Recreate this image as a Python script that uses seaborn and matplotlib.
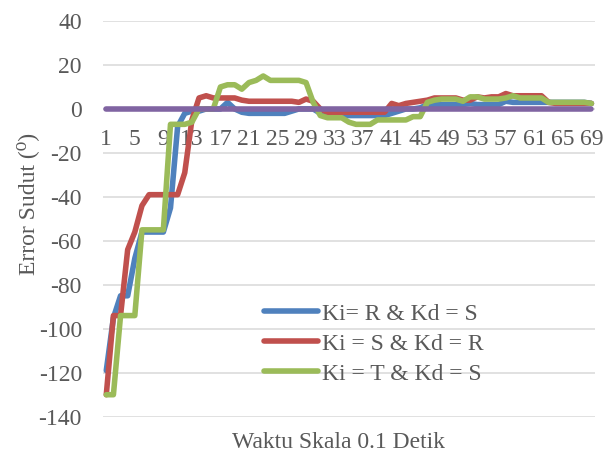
import matplotlib
matplotlib.use("Agg")
import matplotlib.pyplot as plt
import seaborn as sns
import pandas as pd

# Time steps (0.1 s each)
steps = list(range(1, 70))

ki_r_kd_s = [-119, -95, -85, -85, -68, -56, -56, -56, -56, -45,
             -8, -2, -1, -1, 0, 0, 0, 3, 0, -1.5,
             -2, -2, -2, -2, -2, -2, -1, 0, 0, 0,
             -2, -3, -3, -3, -3, -3, -3, -3, -3, -3,
             -2, -1, 0, 0, 0.5, 2, 2, 2, 2, 2,
             2, 2.5, 2, 2, 2, 2, 3.5, 3, 3, 3,
             3, 3, 3, 3, 3, 3, 3, 3, 2.5]

ki_s_kd_r = [-130, -94, -94, -64, -56, -44, -39, -39, -39, -39,
             -39, -29, -5, 5, 6, 5, 5, 5, 5, 4,
             3.5, 3.5, 3.5, 3.5, 3.5, 3.5, 3.5, 3, 4.5, 3.5,
             0, -1.5, -1.5, -1.5, -1.5, -1.5, -1.5, -1.5, -1.5, -1.5,
             2.5, 1.5, 2.5, 3, 3.5, 4, 5, 5, 5, 5,
             4, 4, 5.5, 5, 5.5, 5.5, 7, 6, 6, 6,
             6, 6, 3, 2.5, 2.5, 2.5, 2.5, 2.5, 2.5]

ki_t_kd_s = [-130, -130, -94, -94, -94, -55, -55, -55, -55, -7,
             -7, -7, -6, 0, 0, 0, 10, 11, 11, 9,
             12, 13, 15, 13, 13, 13, 13, 13, 12, 3,
             -3, -4, -4, -4, -6, -7, -7, -7, -5, -5,
             -5, -5, -5, -3.5, -3.5, 3, 4, 4.5, 4.5, 4.5,
             3.5, 5.5, 5.5, 4.5, 4.5, 4.5, 5, 6, 5, 5,
             5, 5, 3, 3, 3, 3, 3, 3, 2.5]

setpoint = [0] * 69

series_names = ["Ki= R & Kd = S", "Ki = S & Kd = R", "Ki = T & Kd = S"]
series_colors = ["#4F81BD", "#C0504D", "#9BBB59"]
setpoint_color = "#8064A2"

y_ticks = list(range(-140, 41, 20))
x_tick_steps = list(range(1, 70, 4))

sns.set_style("white")
plt.rcParams["font.family"] = ["Liberation Serif", "DejaVu Serif"]
plt.rcParams["axes.unicode_minus"] = False

text_color = "#595959"
fs = 17
lw = 4.0

fig = plt.figure(figsize=(6.11, 4.61), dpi=100)
ax = fig.add_axes([0.1681, 0.0961, 0.8057, 0.8583])

df = pd.DataFrame({"step": steps})
for name, vals, col in zip(series_names, [ki_r_kd_s, ki_s_kd_r, ki_t_kd_s], series_colors):
    df[name] = vals
    sns.lineplot(data=df, x="step", y=name, ax=ax, color=col, linewidth=lw,
                 label=name, solid_capstyle="round", solid_joinstyle="round")

df["setpoint"] = setpoint
sns.lineplot(data=df, x="step", y="setpoint", ax=ax, color=setpoint_color,
             linewidth=lw, legend=False, solid_capstyle="round", zorder=5)

ax.set_xlim(0.5, 69.5)
ax.set_ylim(-140, 40)
ax.set_yticks(y_ticks)
ax.set_yticklabels([str(v) for v in y_ticks])
ax.set_xticks(x_tick_steps)
ax.set_xticklabels([str(v) for v in x_tick_steps])

ax.grid(axis="y", color="#D9D9D9", linewidth=1.1)
ax.grid(axis="x", visible=False)
ax.set_axisbelow(True)
for s in ax.spines.values():
    s.set_visible(False)
ax.spines["bottom"].set_position(("data", 0))

ax.tick_params(axis="y", length=0, pad=15, labelsize=fs, labelcolor=text_color)
ax.tick_params(axis="x", length=0, pad=14.5, labelsize=fs, labelcolor=text_color)

ax.set_xlabel("")
ax.set_ylabel("")
fig.text(28 / 611, 1 - 204 / 461, "Error Sudut (\u2070)", rotation=90,
         ha="center", va="center", fontsize=fs, color=text_color)
fig.text(338 / 611, 1 - 442 / 461, "Waktu Skala 0.1 Detik",
         ha="center", va="center", fontsize=fs, color=text_color)

handles, labels = ax.get_legend_handles_labels()
leg = ax.legend(handles[:3], labels[:3], loc="upper left",
                bbox_to_anchor=(264 / 611, 1 - 303 / 461),
                bbox_transform=fig.transFigure, frameon=False,
                fontsize=fs, handlelength=2.3, handletextpad=0.15,
                labelspacing=0.36, borderpad=0, borderaxespad=0)
for t in leg.get_texts():
    t.set_color(text_color)
for h in leg.get_lines():
    h.set_linewidth(lw)
    h.set_solid_capstyle("round")

fig.savefig("out.png", dpi=100)
